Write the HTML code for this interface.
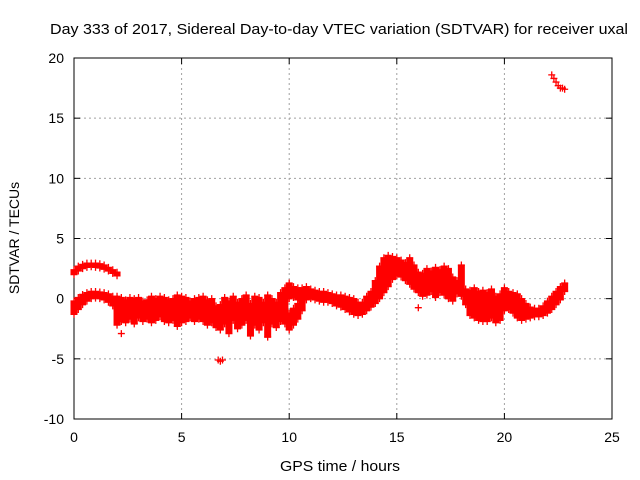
<!DOCTYPE html>
<html><head><meta charset="utf-8"><style>
body{margin:0;background:#fff}
svg{display:block;font-family:"Liberation Sans",sans-serif}
</style></head><body>
<svg id="chart" width="640" height="480">
<text x="50" y="34" font-size="15" textLength="578" lengthAdjust="spacingAndGlyphs">Day 333 of 2017, Sidereal Day-to-day VTEC variation (SDTVAR) for receiver uxal</text>
<text x="280" y="471" font-size="15" textLength="120" lengthAdjust="spacingAndGlyphs">GPS time / hours</text>
<text transform="translate(19,238) rotate(-90)" font-size="14" text-anchor="middle">SDTVAR / TECUs</text>
<g id="grid"></g><g id="axes"></g><g id="marks"></g>
</svg>
<script>
const xTicks=[0,5,10,15,20,25];
const yTicks=[-10,-5,0,5,10,15,20];
// band segments: times, upper values, lower values
const t1=[0,0.2,0.4,0.6,0.8,1.0,1.2,1.4,1.6,1.8,2.0];
const hi1=[2.4,2.7,2.85,2.95,2.95,2.95,2.9,2.8,2.6,2.4,2.2];
const lo1=[2.0,2.3,2.5,2.6,2.65,2.6,2.55,2.45,2.3,2.1,1.9];
const t2=[0,0.2,0.4,0.6,0.8,1.0,1.2,1.4,1.6,1.8,2.0];
const hi2=[-0.2,0.1,0.35,0.5,0.6,0.6,0.55,0.5,0.4,0.2,0.0];
const lo2=[-1.3,-0.9,-0.5,-0.2,0,0.05,0.0,-0.1,-0.3,-0.6,-1.0];
const t3=[2.0,2.2,2.4,2.6,2.8,3.0,3.2,3.4,3.6,3.8,4.0,4.2,4.4,4.6,4.8,5.0,5.2,5.4,5.6,5.8,6.0,6.2,6.4,6.6,6.8,7.0,7.2,7.4,7.6,7.8,8.0,8.2,8.4,8.6,8.8,9.0,9.2,9.4,9.6,9.8];
const hi3=[0.2,0.1,-0.1,0.1,0,0.1,-0.2,-0.1,0.2,0.0,0.2,0.1,-0.1,0.0,0.3,0.2,0.1,-0.2,0.0,0.1,0.2,-0.1,0.0,-0.6,-0.5,0.1,-0.2,0.2,-0.3,0.0,0.3,-0.4,0.2,0.1,-0.3,0.3,0.0,-0.3,0.5,0.9];
const lo3=[-2.2,-1.9,-2.0,-1.7,-2.1,-1.6,-1.9,-1.7,-2.0,-1.8,-1.5,-1.9,-2.0,-1.8,-2.3,-2.0,-1.9,-1.6,-1.9,-1.7,-1.9,-2.2,-2.0,-2.4,-2.6,-2.1,-2.9,-1.8,-2.5,-2.2,-1.8,-3.1,-2.2,-2.6,-2.0,-3.2,-2.1,-2.4,-1.9,-2.1];
const t4=[10.0,10.2,10.4,10.6,10.8,11.0,11.2,11.4,11.6,11.8,12.0,12.2,12.4,12.6,12.8,13.0,13.2];
const hi4=[1.3,1.0,0.9,0.9,1.0,0.8,0.7,0.6,0.6,0.5,0.4,0.3,0.3,0.2,0.1,0.0,-0.3];
const lo4=[0.0,0.1,-0.1,-0.2,-0.1,0.0,-0.1,-0.2,-0.3,-0.3,-0.4,-0.6,-0.7,-0.9,-1.1,-1.3,-1.4];
const t5=[10.0,10.2,10.4,10.6];
const hi5=[-1.2,-0.8,-0.4,0.0];
const lo5=[-2.6,-2.2,-1.7,-1.0];
const t6=[13.4,13.6,13.8,14.0,14.2,14.4,14.6,14.8,15.0,15.2,15.4,15.6,15.8,16.0,16.2,16.4,16.6,16.8,17.0,17.2,17.4,17.6,17.8,18.0,18.2,18.4,18.6,18.8,19.0,19.2,19.4,19.6,19.8,20.0,20.2,20.4,20.6,20.8,21.0,21.2,21.4,21.6,21.8,22.0,22.2,22.4,22.6,22.8];
const hi6=[-0.3,0.2,0.6,1.5,2.7,3.4,3.6,3.5,3.4,3.2,3.0,3.4,2.8,2.2,2.1,2.5,2.3,2.6,2.4,2.7,2.5,1.8,1.5,2.8,0.8,0.7,0.9,0.6,0.7,0.5,0.8,0.2,0.4,0.9,0.6,0.5,0.4,0.0,-0.4,-0.7,-0.8,-0.8,-0.6,-0.2,0.2,0.6,1.0,1.3];
const lo6=[-1.3,-1.0,-0.7,-0.4,0.0,0.5,1.0,1.6,1.9,1.8,1.5,1.2,0.8,0.5,0.2,0.3,0.6,0.1,0.5,0.3,0.0,-0.2,0.4,0.2,-0.5,-1.4,-1.6,-1.8,-1.9,-1.9,-1.6,-2.0,-1.8,-1.0,-0.9,-1.2,-1.6,-1.8,-1.7,-1.6,-1.5,-1.5,-1.4,-1.2,-0.9,-0.5,-0.1,0.6];
// isolated points
const ptT=[22.2,22.3,22.4,22.5,22.6,22.7,22.8,16.0,2.2,6.7,6.8,6.9];
const ptV=[18.6,18.3,18.0,17.7,17.5,17.5,17.4,-0.75,-2.9,-5.1,-5.2,-5.1];

const L=74,R=612,T=58,B=419,xMin=0,xMax=25,yMin=-10,yMax=20;
const X=v=>L+(v-xMin)/(xMax-xMin)*(R-L);
const Y=v=>B-(v-yMin)/(yMax-yMin)*(B-T);
const NS='http://www.w3.org/2000/svg';
function mk(tag,attrs,parent){const e=document.createElementNS(NS,tag);for(const k in attrs)e.setAttribute(k,attrs[k]);parent.appendChild(e);return e;}
const grid=document.getElementById('grid'),axes=document.getElementById('axes'),marks=document.getElementById('marks');
xTicks.forEach(v=>{
  if(v>xMin&&v<xMax){const g=mk('line',{x1:X(v),x2:X(v),y1:T,y2:B,stroke:'#a0a0a0','stroke-dasharray':'2,3'},grid);
  
  }
  mk('line',{x1:X(v),x2:X(v),y1:B,y2:B-6,stroke:'#000'},axes);
  mk('line',{x1:X(v),x2:X(v),y1:T,y2:T+6,stroke:'#000'},axes);
  const t=mk('text',{x:X(v),y:B+23,'font-size':14,'text-anchor':'middle'},axes);t.textContent=v;
  
  
});
yTicks.forEach(v=>{
  if(v>yMin&&v<yMax){const g=mk('line',{x1:L,x2:R,y1:Y(v),y2:Y(v),stroke:'#a0a0a0','stroke-dasharray':'2,3'},grid);
  
  }
  mk('line',{x1:L,x2:L+6,y1:Y(v),y2:Y(v),stroke:'#000'},axes);
  mk('line',{x1:R,x2:R-6,y1:Y(v),y2:Y(v),stroke:'#000'},axes);
  const t=mk('text',{x:L-10,y:Y(v)+5,'font-size':14,'text-anchor':'end'},axes);t.textContent=v;
  
  
});
const frame=mk('rect',{x:L,y:T,width:R-L,height:B-T,fill:'none',stroke:'#000'},axes);


function plus(t,v){
  const p=mk('path',{d:`M${X(t)-3.5},${Y(v)}h7M${X(t)},${Y(v)-3.5}v7`,stroke:'#f00','stroke-width':1.3,fill:'none'},marks);
  
  
}
function band(ts,his,los){
  ts.forEach((t,i)=>{
    const r=mk('rect',{x:X(t)-3.5,y:Y(his[i]),width:7,height:Math.max(1,Y(los[i])-Y(his[i])),fill:'#f00'},marks);
    
    
    plus(t,his[i]);plus(t,los[i]);
  });
}
band(t1,hi1,lo1);band(t2,hi2,lo2);band(t3,hi3,lo3);band(t4,hi4,lo4);band(t5,hi5,lo5);band(t6,hi6,lo6);
ptT.forEach((t,i)=>plus(t,ptV[i]));
</script>
</body></html>
